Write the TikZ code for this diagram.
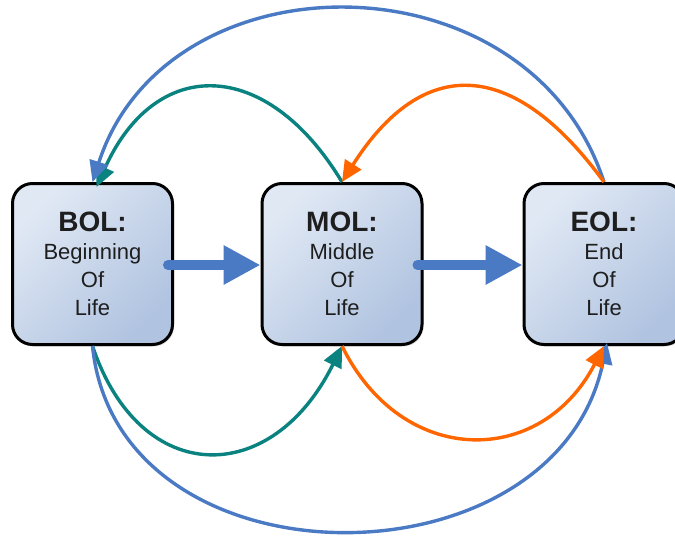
\documentclass[tikz,border=0pt]{standalone}
\usepackage{fontspec}
\setmainfont{Liberation Sans}
\usetikzlibrary{arrows.meta,shadows}
\definecolor{lcblue}{RGB}{74,122,196}
\definecolor{lcteal}{RGB}{10,130,128}
\definecolor{lcorange}{RGB}{255,102,0}
\definecolor{boxlight}{RGB}{224,232,244}
\definecolor{boxdark}{RGB}{176,195,224}
\definecolor{txtgray}{RGB}{30,30,30}
\tikzset{
  stagebox/.style={draw=black, line width=3pt, rounded corners=20pt,
    minimum width=160pt, minimum height=161pt, inner sep=0pt,
    top color=boxlight, bottom color=boxdark, shading angle=45,
    align=center, text=txtgray, font=\fontsize{22}{28}\selectfont,
    drop shadow={shadow xshift=1.5pt, shadow yshift=-2pt, opacity=0.25}},
  bigarrow/.style={draw=lcblue, line width=10pt, line cap=round,
    -{Triangle[length=37pt,width=37pt]}},
  loop/.style={line width=3.4pt, -{Triangle[length=21pt,width=19pt]}},
}
\newcommand{\stagetitle}[1]{{\fontsize{28}{28}\selectfont\bfseries #1}}
\begin{document}
\begin{tikzpicture}[x=1pt,y=-1pt]
\useasboundingbox (0,0) rectangle (675,536);
\clip (0,0) rectangle (675,536);
\node[stagebox] (BOL) at (92.5,264) {\stagetitle{BOL:}\\Beginning\\Of\\Life};
\node[stagebox] (MOL) at (342,264) {\stagetitle{MOL:}\\Middle\\Of\\Life};
\node[stagebox] (EOL) at (604,264) {\stagetitle{EOL:}\\End\\Of\\Life};
% thick arrows
\draw[bigarrow] ([xshift=-6pt,yshift=-1pt]BOL.east) -- ([yshift=-1pt]MOL.west);
\draw[bigarrow] ([xshift=-6pt,yshift=-1pt]MOL.east) -- ([yshift=-1pt]EOL.west);
% top curves
\draw[loop, lcteal] (MOL.north) .. controls (266,56) and (155,56) .. ([xshift=4pt,yshift=-5pt]BOL.north);
\draw[loop, lcblue] (EOL.north) .. controls (529,-48) and (167,-48) .. (BOL.north);
\draw[loop, lcorange] (EOL.north) .. controls (512,56) and (422,56) .. (MOL.north);
% bottom curves
\draw[loop, lcteal] (BOL.south) .. controls (140,488) and (272,488) .. (MOL.south);
\draw[loop, lcblue] (BOL.south) .. controls (117,592) and (555,592) .. ([xshift=3pt,yshift=3pt]EOL.south);
\draw[loop, lcorange] (MOL.south) .. controls (402,468) and (541,468) .. (EOL.south);
\end{tikzpicture}
\end{document}
